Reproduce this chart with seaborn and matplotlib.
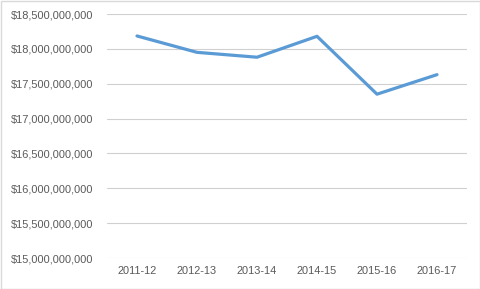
import matplotlib
matplotlib.use("Agg")
import matplotlib.pyplot as plt
import seaborn as sns
import pandas as pd
from matplotlib.ticker import FuncFormatter, MultipleLocator
from matplotlib.patches import Rectangle

years = ["2011-12", "2012-13", "2013-14", "2014-15", "2015-16", "2016-17"]
values = [18.185e9, 17.95e9, 17.88e9, 18.18e9, 17.35e9, 17.63e9]

sns.set_theme(style="white")
plt.rcParams["font.family"] = ["Liberation Sans", "DejaVu Sans"]

df = pd.DataFrame({"year": years, "value": values})

fig = plt.figure(figsize=(4.81, 2.89), dpi=100)
ax = fig.add_axes([107/481, (289-258)/289, 360/481, (258-14)/289])

sns.lineplot(data=df, x="year", y="value", ax=ax, color="#5B9BD5",
             linewidth=2.3, sort=False)

ax.set_xlim(-0.5, 5.5)
ax.set_ylim(15e9, 18.5e9)
ax.yaxis.set_major_locator(MultipleLocator(0.5e9))
ax.yaxis.set_major_formatter(FuncFormatter(lambda v, p: "${:,.0f}".format(v)))
ax.grid(axis="y", color="#D0D0D0", linewidth=0.8)
ax.set_axisbelow(True)
for s in ax.spines.values():
    s.set_visible(False)
ax.set_xlabel("")
ax.set_ylabel("")
ax.tick_params(axis="both", length=0, labelsize=7.9, colors="#595959")
ax.tick_params(axis="y", pad=9.5)
ax.tick_params(axis="x", pad=6)

fig.patches.append(Rectangle((0.5/481, 0.5/289), 479.5/481, 287.5/289,
                             transform=fig.transFigure, fill=False,
                             edgecolor="#D9D9D9", linewidth=1))

fig.savefig("out.png", dpi=100)
